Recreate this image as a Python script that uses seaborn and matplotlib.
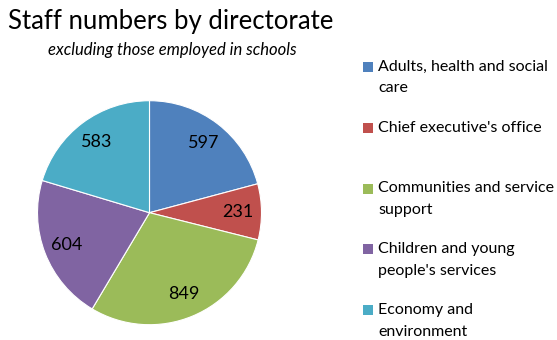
import matplotlib
matplotlib.use("Agg")
import matplotlib.pyplot as plt
from matplotlib.patches import Rectangle
import numpy as np
import seaborn as sns

# Staff numbers per directorate (excluding schools)
directorates = [
    "Adults, health and social\ncare",
    "Chief executive's office",
    "Communities and service\nsupport",
    "Children and young\npeople's services",
    "Economy and\nenvironment",
]
staff = [597, 231, 849, 604, 583]
colors = ["#4F81BD", "#C0504D", "#9BBB59", "#8064A2", "#4BACC6"]

sns.set_theme(style="white")
plt.rcParams["font.family"] = ["Lato", "DejaVu Sans"]

W, H = 557, 340
fig = plt.figure(figsize=(W / 100, H / 100), dpi=100)
fig.patch.set_facecolor("white")

fig.text(171 / W, 1 - 22 / H, "Staff numbers by directorate",
         ha="center", va="center", fontsize=18.5, color="black")
fig.text(172 / W, 1 - 50 / H, "excluding those employed in schools",
         ha="center", va="center", fontsize=12, style="italic", color="black")

# Pie axes: square box centred on the pie
cx, cy, r = 149.5, 212.7, 112
ax = fig.add_axes([(cx - r) / W, 1 - (cy + r) / H, 2 * r / W, 2 * r / H])
wedges, _ = ax.pie(staff, colors=colors, startangle=90, counterclock=False,
                   radius=1, wedgeprops=dict(edgecolor="white", linewidth=0.8))
total = sum(staff)
ang = 90.0
for v in staff:
    span = v / total * 360
    mid = np.deg2rad(ang - span / 2)
    ax.text(0.79 * np.cos(mid), 0.79 * np.sin(mid), str(v),
            ha="center", va="center", fontsize=13, color="black")
    ang -= span
ax.set_xlim(-1, 1)
ax.set_ylim(-1, 1)
ax.axis("off")

# Legend: one entry per directorate, two-line slots
top, step, line_h = 67, 60.75, 21.5
for i, (lab, col) in enumerate(zip(directorates, colors)):
    y0 = top + i * step
    fig.patches.append(Rectangle((363 / W, 1 - (y0 + 5) / H), 10 / W, 10 / H,
                                 transform=fig.transFigure, facecolor=col,
                                 edgecolor="none"))
    for j, line in enumerate(lab.split("\n")):
        fig.text(378 / W, 1 - (y0 + j * line_h) / H, line, ha="left",
                 va="center", fontsize=11.5, color="black")

fig.savefig("out.png", dpi=100, facecolor="white")
